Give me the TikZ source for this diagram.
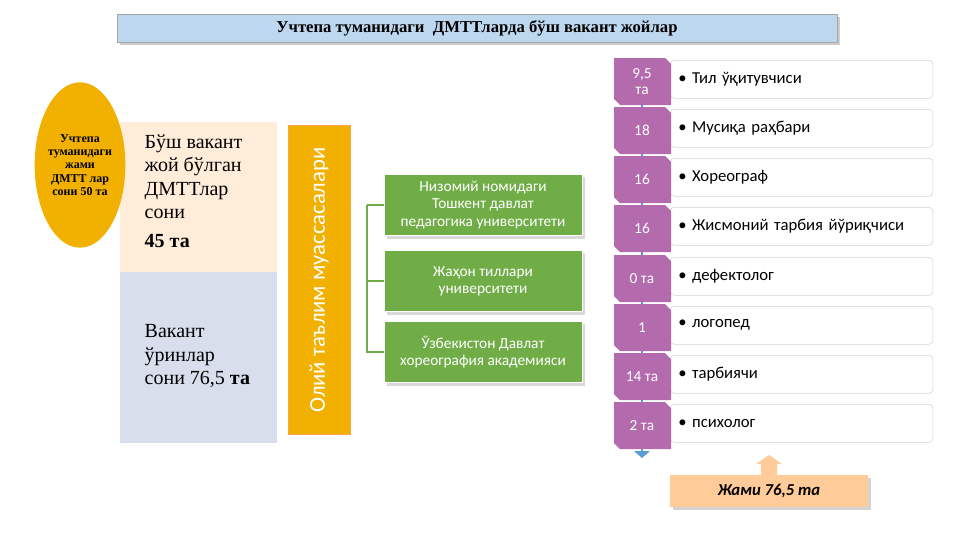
\documentclass[tikz,border=0pt]{standalone}
\usepackage{fontspec}
\setmainfont{Liberation Serif}
\newfontfamily\calfnt{Carlito}
\usetikzlibrary{shadows,shapes.geometric}
\definecolor{purp}{HTML}{B36BAE}
\definecolor{grn}{HTML}{70AD47}
\definecolor{org}{HTML}{F2B100}
\definecolor{blu}{HTML}{5B9BD5}
\definecolor{lblu}{HTML}{D9DEEC}
\begin{document}
\begin{tikzpicture}[x=0.75pt,y=-0.75pt,
  greenbox/.style={draw=white,fill=grn,text=white,font=\calfnt\fontsize{11.5}{13}\selectfont,align=center,minimum width=148.5pt,minimum height=46pt,drop shadow={opacity=0.3}},
  itembox/.style={draw=gray!35,fill=white,rounded corners=3pt,anchor=north west,minimum height=28.5pt,text width=185pt,align=left,font=\calfnt\fontsize{12.5}{14}\selectfont,inner xsep=6pt},
  numbox/.style={fill=purp,text=white,font=\calfnt\fontsize{11.5}{12}\selectfont,align=center}]
\useasboundingbox (0,0) rectangle (961,540);
% title
\node[draw=gray!70,fill=blu!40,drop shadow={opacity=0.4},minimum width=540pt,minimum height=21pt,font=\bfseries\fontsize{12.5}{14}\selectfont] (title) at (477,28) {Учтепа туманидаги\ \ ДМТТларда бўш вакант жойлар};
% left block
\fill[orange!15] (120,122) rectangle (277,272);
\fill[lblu] (120,272) rectangle (277,443);
\node[anchor=north west,align=left,font=\fontsize{15}{17.5}\selectfont] (t1) at (140,130) {Бўш вакант\\жой бўлган\\ДМТТлар\\сони\\[4pt]\textbf{45 та}};
\node[anchor=north west,align=left,font=\fontsize{15}{17.5}\selectfont] (t2) at (140,320) {Вакант\\ўринлар\\сони 76,5 \textbf{та}};
\node[ellipse,fill=org,minimum width=68pt,minimum height=124pt,inner sep=0pt,align=center,font=\bfseries\fontsize{9}{10}\selectfont] (ell) at (80,165) {Учтепа\\туманидаги\\жами\\ДМТТ лар\\сони 50 та};
% orange bar
\node[fill=org,draw=orange!70,minimum width=46.5pt,minimum height=232pt,inner sep=0pt] (bar) at (319,280) {};
\node[rotate=90,text=white,font=\calfnt\fontsize{17}{18}\selectfont] at (bar.center) {Олий таълим муассасалари};
% green
\node[greenbox] (g1) at (483,205) {Низомий номидаги\\Тошкент давлат\\педагогика университети};
\node[greenbox] (g2) at (483,281) {Жаҳон тиллари\\университети};
\node[greenbox] (g3) at (483,352) {Ўзбекистон Давлат\\хореография академияси};
\coordinate (br) at (367,205);
\draw[grn,thick] (br) |- (g3.west);
\draw[grn,thick] (br) -- (g1.west);
\draw[grn,thick] (br|-g2.west) -- (g2.west);
% right list
\coordinate (ltop) at (642,60);
\coordinate (lbot) at (642,452);
\draw[blu,line width=2pt] (ltop) -- (lbot);
\fill[blu] (634,451) -- (650,451) -- (642,458) -- cycle;
\foreach \i/\y/\n/\t in {1/58/{9,5\\та}/Тил ўқитувчиси,2/107/18/Мусиқа раҳбари,3/156/16/Хореограф,4/205/16/Жисмоний тарбия йўриқчиси,5/255/0 та/дефектолог,6/304/1/логопед,7/353/14 та/тарбиячи,8/402/2 та/психолог}{
  \node[itembox] (it\i) at (670,\y+2) {\textbullet\ \t};
  \fill[purp] (614,\y) -- (665,\y) -- (671,\y+6) -- (671,\y+47) -- (620,\y+47) -- (614,\y+41) -- cycle;
  \node[numbox] (n\i) at (642,\y+23.5) {\n};
}
% bottom
\node[fill=orange!40,minimum width=148pt,minimum height=24pt,drop shadow={opacity=0.35},font=\calfnt\bfseries\itshape\fontsize{12.5}{14}\selectfont] (sum) at (769,491) {Жами 76,5 та};
\fill[orange!40] (761,475) -- (761,464) -- (756,464) -- (769,455) -- (782,464) -- (777,464) -- (777,475) -- cycle;
\end{tikzpicture}
\end{document}
